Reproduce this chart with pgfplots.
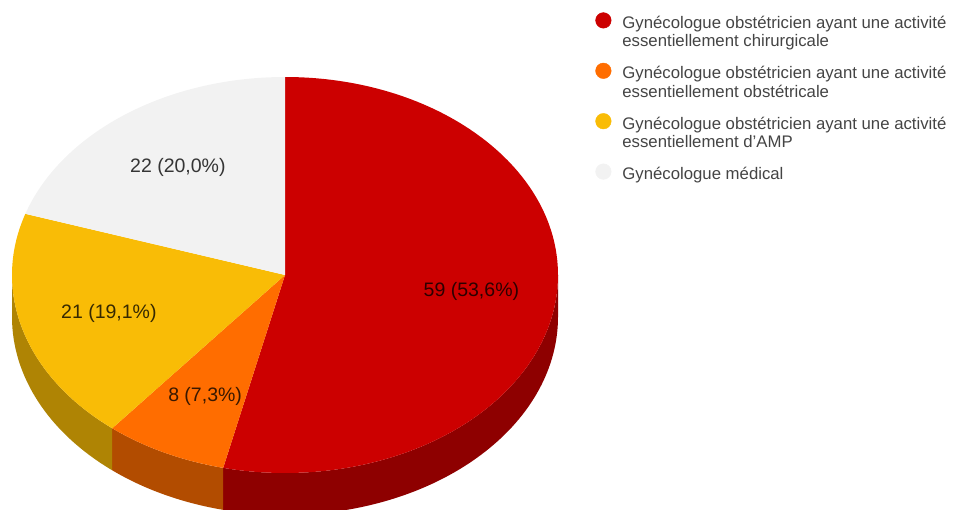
\documentclass[border=0pt]{standalone}
\usepackage{pgfplots}
\pgfplotsset{compat=1.18}
\usepackage{fontspec}
\setmainfont{Liberation Sans}
\definecolor{cRed}{HTML}{CC0000}
\definecolor{cRedS}{HTML}{8E0000}
\definecolor{cOra}{HTML}{FF6D00}
\definecolor{cOraS}{HTML}{B24C00}
\definecolor{cYel}{HTML}{F9BC06}
\definecolor{cYelS}{HTML}{AF8404}
\definecolor{cGry}{HTML}{F2F2F2}
\definecolor{cGryS}{HTML}{A9A9A9}
\definecolor{legtext}{HTML}{444444}
\begin{document}
\begin{tikzpicture}
\path[use as bounding box] (0,0) rectangle (953pt,509pt);
\begin{axis}[
  at={(0,0)}, anchor=south west,
  x=1pt, y=1pt, xmin=0, xmax=953, ymin=0, ymax=509,
  y dir=reverse, hide axis, scale only axis, clip=false,
  legend style={at={(axis cs:595.2,12.2)}, anchor=north west,
    draw=none, fill=none, inner sep=0pt, row sep=10.4pt, column sep=11pt,
    cells={anchor=base west},
    nodes={inner sep=0pt, text=legtext, font=\fontsize{16.75}{18.3}\selectfont}},
]
% values: 59, 8, 21, 22 (total 110); pie starts at 12 o'clock, clockwise
\def\cx{285}\def\cy{275}\def\rx{273}\def\ry{198}\def\dep{42}
% side walls (front half only)
\gdef\cum{0}
\foreach \v/\cs in {59/cRedS, 8/cOraS, 21/cYelS, 22/cGryS}{
  \pgfmathsetmacro\s{90-\cum/110*360}
  \pgfmathsetmacro\newcum{\cum+\v}
  \global\let\cum\newcum
  \pgfmathsetmacro\e{90-\cum/110*360}
  \pgfmathsetmacro\a{max(\e,-180)}
  \pgfmathsetmacro\b{min(\s,0)}
  \pgfmathparse{\a<\b ? 1 : 0}
  \pgfmathtruncatemacro\ok{\pgfmathresult}
  \ifnum\ok=1
    \pgfmathsetmacro\px{\cx+\rx*cos(\b)}
    \pgfmathsetmacro\py{\cy-\ry*sin(\b)}
    \edef\temp{\noexpand\fill[\cs] (axis cs:\px,\py)
      arc[start angle=\b, end angle=\a, x radius=\rx pt, y radius=\ry pt]
      -- ++(0pt,-\dep pt)
      arc[start angle=\a, end angle=\b, x radius=\rx pt, y radius=\ry pt] -- cycle;}
    \temp
  \fi
}
% top faces
\gdef\cum{0}
\foreach \v/\ct in {59/cRed, 8/cOra, 21/cYel, 22/cGry}{
  \pgfmathsetmacro\s{90-\cum/110*360}
  \pgfmathsetmacro\newcum{\cum+\v}
  \global\let\cum\newcum
  \pgfmathsetmacro\e{90-\cum/110*360}
  \pgfmathsetmacro\px{\cx+\rx*cos(\s)}
  \pgfmathsetmacro\py{\cy-\ry*sin(\s)}
  \edef\temp{\noexpand\fill[\ct] (axis cs:\cx,\cy) -- (axis cs:\px,\py)
      arc[start angle=\s, end angle=\e, x radius=\rx pt, y radius=\ry pt] -- cycle;}
  \temp
}
% slice labels
\gdef\cum{0}
\foreach \v/\lab in {59/{59 (53,6\%)}, 8/{8 (7,3\%)}, 21/{21 (19,1\%)}, 22/{22 (20,0\%)}}{
  \pgfmathsetmacro\s{90-\cum/110*360}
  \pgfmathsetmacro\newcum{\cum+\v}
  \global\let\cum\newcum
  \pgfmathsetmacro\e{90-\cum/110*360}
  \pgfmathsetmacro\m{(\s+\e)/2}
  \pgfmathsetmacro\lx{\cx+0.68*\rx*cos(\m)+2}
  \pgfmathsetmacro\ly{\cy-0.68*\ry*sin(\m)+1}
  \edef\temp{\noexpand\node[text=black, text opacity=0.78, inner sep=0pt,
     font=\noexpand\fontsize{19.5}{22}\noexpand\selectfont] at (axis cs:\lx,\ly) {\lab};}
  \temp
}
\addlegendimage{legend image code/.code={\path (0pt,-23.8pt); \fill[cRed] (7.8pt,8pt) circle[radius=7.8pt];}}
\addlegendentry{\begin{tabular}[t]{@{}l@{}}Gynécologue obstétricien ayant une activité\\essentiellement chirurgicale\end{tabular}}
\addlegendimage{legend image code/.code={\path (0pt,-23.8pt); \fill[cOra] (7.8pt,8pt) circle[radius=7.8pt];}}
\addlegendentry{\begin{tabular}[t]{@{}l@{}}Gynécologue obstétricien ayant une activité\\essentiellement obstétricale\end{tabular}}
\addlegendimage{legend image code/.code={\path (0pt,-23.8pt); \fill[cYel] (7.8pt,8pt) circle[radius=7.8pt];}}
\addlegendentry{\begin{tabular}[t]{@{}l@{}}Gynécologue obstétricien ayant une activité\\essentiellement d'AMP\end{tabular}}
\addlegendimage{legend image code/.code={\fill[cGry] (7.8pt,8pt) circle[radius=7.8pt];}}
\addlegendentry{Gynécologue médical}
\end{axis}
\end{tikzpicture}
\end{document}
